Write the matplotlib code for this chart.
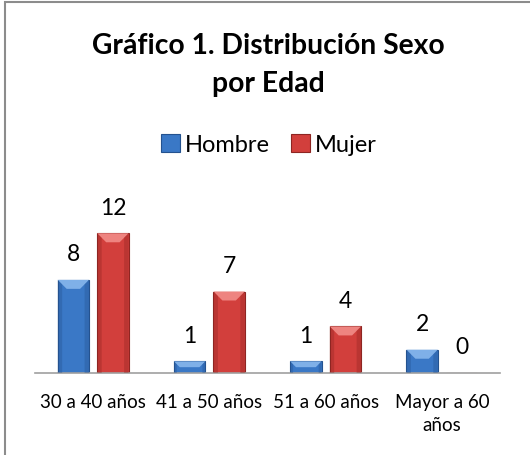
import numpy as np
import matplotlib.pyplot as plt
from matplotlib.patches import Polygon, Rectangle

categories = ['30 a 40 años', '41 a 50 años', '51 a 60 años', 'Mayor a 60\naños']
hombre = [8, 1, 1, 2]
mujer = [12, 7, 4, 0]

W, H = 530, 455
fig = plt.figure(figsize=(W / 100, H / 100), dpi=100)
plt.rcParams['font.family'] = ['Lato', 'DejaVu Sans']

# chart border (only top and left edges show in the picture)
fig.patches.append(Rectangle((5 / W, -0.1), 1.2, (H - 2) / H + 0.1, transform=fig.transFigure,
                             fill=False, edgecolor='#8c8c8c', linewidth=1.5))

ax = fig.add_axes([35 / W, (H - 373) / H, 465 / W, 163 / H])
x = np.arange(len(categories))
bw = 0.27
off = 0.17

def draw_bars(xs, vals, base, light, dark):
    bars = ax.bar(xs, vals, bw, color=base, edgecolor=dark, linewidth=0.8, zorder=2)
    px_x = 465 / len(categories)
    px_y = 163 / 14
    for b, v in zip(bars, vals):
        if v <= 0:
            continue
        x0, x1 = b.get_x(), b.get_x() + b.get_width()
        dy = min(9 / px_y, v / 2)
        dx = dy * px_y / px_x
        ax.add_patch(Polygon([(x0, v), (x1, v), (x1 - dx, v - dy), (x0 + dx, v - dy)],
                             closed=True, facecolor=light, edgecolor='none', zorder=3))
        ax.add_patch(Polygon([(x0, 0), (x0 + dx * 0.5, 0), (x0 + dx * 0.5, v - dy * 0.5), (x0, v)],
                             closed=True, facecolor=dark, alpha=0.35, edgecolor='none', zorder=3))
        ax.add_patch(Polygon([(x1, 0), (x1 - dx * 0.5, 0), (x1 - dx * 0.5, v - dy * 0.5), (x1, v)],
                             closed=True, facecolor=dark, alpha=0.35, edgecolor='none', zorder=3))
    return bars

b1 = draw_bars(x - off, hombre, '#3a78c6', '#7fb0e8', '#24528f')
b2 = draw_bars(x + off, mujer, '#d23f3c', '#ee8480', '#8e2522')

for xs, vals in ((x - off, hombre), (x + off, mujer)):
    for xi, v in zip(xs, vals):
        ax.annotate(str(v), (xi, v), xytext=(0, 18), textcoords='offset points',
                    ha='center', va='center', fontsize=16.5)

ax.set_xlim(-0.5, len(categories) - 0.5)
ax.set_ylim(0, 14)
ax.set_yticks([])
ax.set_xticks(x)
ax.set_xticklabels(categories, fontsize=13.5, linespacing=1.45)
ax.tick_params(axis='x', length=0, pad=15)
for s in ['top', 'right', 'left']:
    ax.spines[s].set_visible(False)
ax.spines['bottom'].set_color('#a0a0a0')
ax.spines['bottom'].set_linewidth(1.2)
ax.patch.set_alpha(0)

fig.text(268 / W, 1 - 65 / H, 'Gráfico 1. Distribución Sexo\npor Edad', ha='center', va='center',
         fontsize=20.3, fontweight='bold', linespacing=1.6)

leg = fig.legend([b1, b2], ['Hombre', 'Mujer'], loc='center', bbox_to_anchor=(269 / W, 1 - 145 / H),
                 ncol=2, frameon=False, fontsize=17, handlelength=0.8, handleheight=0.8,
                 handletextpad=0.2, columnspacing=0.9)

fig.savefig('out.png', dpi=100)
